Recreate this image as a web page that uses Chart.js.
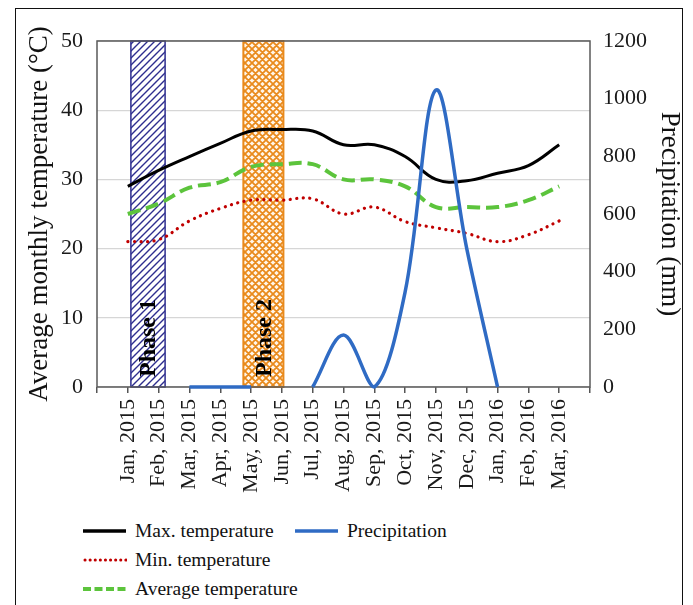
<!DOCTYPE html>
<html>
<head>
<meta charset="utf-8">
<script src="https://cdn.jsdelivr.net/npm/chart.js@4.4.1/dist/chart.umd.min.js"></script>
<style>
  html, body { margin: 0; padding: 0; background: #fff; }
  body { width: 693px; height: 605px; position: relative; overflow: hidden;
         font-family: "Liberation Serif", "Times New Roman", serif; }
  #frame { position: absolute; left: 15px; top: 8px; width: 666px; height: 640px;
           border: 1.5px solid #111; }
  #chart { position: absolute; left: 0; top: 0; }
  .item { position: absolute; font-size: 19.5px; color: #111; line-height: 22px; white-space: nowrap; }
  .item svg { position: absolute; left: 0; top: 5px; }
  .item span { position: absolute; left: 52px; top: 0; }
</style>
</head>
<body>
<div id="frame"></div>
<canvas id="chart" width="693" height="505"></canvas>

<div class="item" style="left:83px; top:520px;">
  <svg width="44" height="12"><line x1="0" y1="6" x2="43" y2="6" stroke="#000" stroke-width="3.5"/></svg>
  <span>Max. temperature</span>
</div>
<div class="item" style="left:295px; top:520px;">
  <svg width="44" height="12"><line x1="0" y1="6" x2="43" y2="6" stroke="#2f6bc4" stroke-width="3.5"/></svg>
  <span>Precipitation</span>
</div>
<div class="item" style="left:83px; top:549px;">
  <svg width="44" height="12"><line x1="2" y1="6" x2="43" y2="6" stroke="#c00000" stroke-width="3" stroke-dasharray="0.1 5" stroke-linecap="round"/></svg>
  <span>Min. temperature</span>
</div>
<div class="item" style="left:83px; top:578px;">
  <svg width="44" height="12"><line x1="0" y1="6" x2="43" y2="6" stroke="#5cc43c" stroke-width="4" stroke-dasharray="8 3.5"/></svg>
  <span>Average temperature</span>
</div>

<script>
const months = ["Jan, 2015", "Feb, 2015", "Mar, 2015", "Apr, 2015", "May, 2015", "Jun, 2015",
    "Jul, 2015", "Aug, 2015", "Sep, 2015", "Oct, 2015", "Nov, 2015", "Dec, 2015",
    "Jan, 2016", "Feb, 2016", "Mar, 2016"];
const maxTemp = [29, 31.3, 33.3, 35.2, 37, 37.2, 37, 35, 35, 33.3, 30, 29.8, 30.9, 32, 35];
const minTemp = [21, 21.3, 24, 25.8, 27, 27, 27.2, 25, 26, 23.9, 23, 22.2, 21, 22, 24];
const avgTemp = [25, 26.5, 28.8, 29.6, 31.8, 32.2, 32.2, 30, 30, 29, 26, 26, 26, 27, 29];
const precip = [0, null, 0, 0, 0, null, 0, 180, 0, 330, 1030, 480, 0, null, null];

const tempAxis = [0, 50, 10];      // min, max, step (°C)
const precipAxis = [0, 1200, 200]; // min, max, step (mm)

const phaseNames = ["Phase 1", "Phase 2"];
const phaseFrom = [0.1, 3.75];
const phaseTo = [1.21, 5.05];

const serif = '"Liberation Serif", "Times New Roman", serif';
Chart.defaults.font.family = serif;
Chart.defaults.color = "#1a1a1a";

/* hatch patterns for the phase boxes */
function makePattern(kind) {
    const s = 7;
    const c = document.createElement("canvas");
    c.width = s; c.height = s;
    const g = c.getContext("2d");
    if (kind === "diag") {
        g.fillStyle = "#fff";
        g.fillRect(0, 0, s, s);
        g.strokeStyle = "#2e2e8f";
        g.lineWidth = 1.4;
        g.beginPath();
        g.moveTo(0, s); g.lineTo(s, 0);
        g.moveTo(-1, 1); g.lineTo(1, -1);
        g.moveTo(s - 1, s + 1); g.lineTo(s + 1, s - 1);
        g.stroke();
    } else {
        g.fillStyle = "#fff6ea";
        g.fillRect(0, 0, s, s);
        g.strokeStyle = "#e98a1c";
        g.lineWidth = 1.8;
        g.beginPath();
        g.moveTo(0, s); g.lineTo(s, 0);
        g.moveTo(-1, 1); g.lineTo(1, -1);
        g.moveTo(s - 1, s + 1); g.lineTo(s + 1, s - 1);
        g.moveTo(0, 0); g.lineTo(s, s);
        g.moveTo(-1, s - 1); g.lineTo(1, s + 1);
        g.moveTo(s - 1, -1); g.lineTo(s + 1, 1);
        g.stroke();
    }
    return g.createPattern(c, "repeat");
}

const ctx = document.getElementById("chart").getContext("2d");
const phaseFill = [makePattern("diag"), makePattern("cross")];
const phaseEdge = ["#2e2e8f", "#e98a1c"];

const phasePlugin = {
    id: "phases",
    beforeDatasetsDraw(chart) {
        const { ctx, chartArea: a, scales } = chart;
        const x = scales.x, y = scales.y;
        ctx.save();
        phaseNames.forEach((name, i) => {
            const l = x.getPixelForValue(phaseFrom[i]);
            const r = x.getPixelForValue(phaseTo[i]);
            const t = y.getPixelForValue(tempAxis[1]);
            const b = y.getPixelForValue(tempAxis[0]);
            ctx.fillStyle = phaseFill[i];
            ctx.fillRect(l, t, r - l, b - t);
            ctx.strokeStyle = phaseEdge[i];
            ctx.lineWidth = i === 0 ? 1.5 : 2;
            ctx.strokeRect(l, t, r - l, b - t);

            ctx.save();
            ctx.translate((l + r) / 2, b - 10);
            ctx.rotate(-Math.PI / 2);
            ctx.font = "bold 24px " + serif;
            ctx.fillStyle = "#000";
            ctx.textAlign = "left";
            ctx.textBaseline = "middle";
            ctx.fillText(name, 0, 1);
            ctx.restore();
        });
        // plot frame
        ctx.strokeStyle = "#5a5a5a";
        ctx.lineWidth = 1.5;
        ctx.strokeRect(a.left, a.top, a.right - a.left, a.bottom - a.top);
        ctx.restore();
    }
};

const pts = arr => arr.map((v, i) => ({ x: i, y: v }));

new Chart(ctx, {
    type: "line",
    data: {
        datasets: [
            { label: "Precipitation", data: pts(precip), yAxisID: "y1", order: 0,
              borderColor: "#2f6bc4", borderWidth: 3.5, tension: 0.35, clip: false },
            { label: "Max. temperature", data: pts(maxTemp), yAxisID: "y", order: 1,
              borderColor: "#000", borderWidth: 3, tension: 0.4 },
            { label: "Average temperature", data: pts(avgTemp), yAxisID: "y", order: 2,
              borderColor: "#5cc43c", borderWidth: 4, borderDash: [13, 6], tension: 0.4 },
            { label: "Min. temperature", data: pts(minTemp), yAxisID: "y", order: 3,
              borderColor: "#c00000", borderWidth: 3.2, borderDash: [0.1, 6.5],
              borderCapStyle: "round", tension: 0.4 }
        ]
    },
    options: {
        responsive: false,
        animation: false,
        devicePixelRatio: 1,
        layout: { padding: { top: 41, left: 0, right: 0, bottom: 0 } },
        elements: { point: { radius: 0, hoverRadius: 0 } },
        plugins: { legend: { display: false }, tooltip: { enabled: false } },
        scales: {
            x: {
                type: "linear",
                min: -1, max: months.length,
                afterFit: s => { s.height = 118; },
                grid: { drawOnChartArea: false, drawTicks: true, tickLength: 6, color: "#555", lineWidth: 1.5 },
                border: { display: false },
                ticks: {
                    stepSize: 1, autoSkip: false, minRotation: 90, maxRotation: 90, padding: 6,
                    font: { size: 22 },
                    callback: v => months[v] || ""
                }
            },
            y: {
                position: "left",
                min: tempAxis[0], max: tempAxis[1],
                afterFit: s => { s.width = 97; },
                grid: { color: "#d6d6d6", lineWidth: 1.2, drawTicks: false },
                border: { display: false },
                ticks: { stepSize: tempAxis[2], padding: 14, font: { size: 22 }, callback: v => String(v) },
                title: { display: true, text: "Average monthly temperature (°C)",
                         font: { size: 27 }, padding: { top: 24, bottom: 0 }, color: "#111" }
            },
            y1: {
                position: "right",
                min: precipAxis[0], max: precipAxis[1],
                afterFit: s => { s.width = 103; },
                grid: { drawOnChartArea: false, drawTicks: false },
                border: { display: false },
                ticks: { stepSize: precipAxis[2], padding: 13, font: { size: 22 }, callback: v => String(v) },
                title: { display: true, text: "Precipitation (mm)",
                         font: { size: 27 }, padding: { top: 8, bottom: 0 }, color: "#111" }
            }
        }
    },
    plugins: [phasePlugin]
});
</script>
</body>
</html>
